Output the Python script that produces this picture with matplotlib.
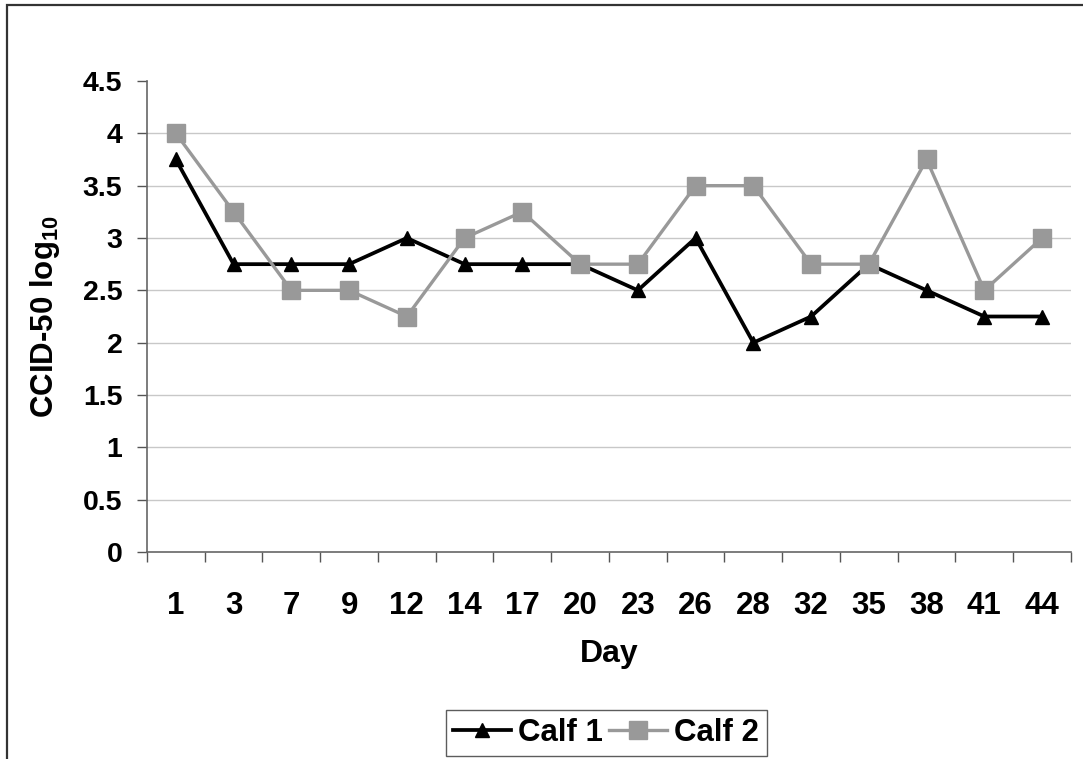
import matplotlib.pyplot as plt
from matplotlib.patches import Rectangle

plt.rcParams['font.family'] = ['Liberation Sans', 'DejaVu Sans']
plt.rcParams['font.weight'] = 'bold'
plt.rcParams['mathtext.fontset'] = 'custom'
plt.rcParams['mathtext.bf'] = 'Liberation Sans:bold'
plt.rcParams['mathtext.rm'] = 'Liberation Sans:bold'

# sampling days and virus titres for each calf
days = ['1', '3', '7', '9', '12', '14', '17', '20', '23', '26', '28', '32', '35', '38', '41', '44']
calf1 = [3.75, 2.75, 2.75, 2.75, 3.0, 2.75, 2.75, 2.75, 2.5, 3.0, 2.0, 2.25, 2.75, 2.5, 2.25, 2.25]
calf2 = [4.0, 3.25, 2.5, 2.5, 2.25, 3.0, 3.25, 2.75, 2.75, 3.5, 3.5, 2.75, 2.75, 3.75, 2.5, 3.0]
yticks = [0, 0.5, 1, 1.5, 2, 2.5, 3, 3.5, 4, 4.5]
ytick_labels = ['0', '0.5', '1', '1.5', '2', '2.5', '3', '3.5', '4', '4.5']

fig = plt.figure(figsize=(10.83, 7.59), dpi=100)
ax = fig.add_axes([0.1357, 0.2727, 0.8532, 0.6206])

# chart frame (only left and top edges fall inside the image)
fig.patches.append(Rectangle((6.5 / 1083, -0.2), 1.2, 1.2 - 4.5 / 759,
                             transform=fig.transFigure, fill=False,
                             edgecolor='#333333', linewidth=1.6, zorder=0))

x = list(range(len(days)))
ax.plot(x, calf1, color='black', linewidth=2.7, marker='^', markersize=10,
        label='Calf 1', zorder=3)
ax.plot(x, calf2, color='#999999', linewidth=2.4, marker='s', markersize=12.5,
        label='Calf 2', zorder=4)

ax.set_xlim(-0.5, len(days) - 0.5)
ax.set_ylim(0, 4.5)

for v in yticks[1:-1]:
    ax.axhline(v, color='#c8c8c8', linewidth=1, zorder=1)

ax.set_yticks(yticks)
ax.set_yticklabels(ytick_labels)
ax.set_xticks(x)
ax.set_xticklabels(days)
ax.set_xticks([i - 0.5 for i in range(len(days) + 1)], minor=True)
ax.tick_params(axis='x', which='major', length=0, pad=28, labelsize=22.5)
ax.tick_params(axis='x', which='minor', length=7.2, width=1, color='#555555')
ax.tick_params(axis='y', length=7.2, width=1, color='#555555', pad=10.5, labelsize=20.5)

for side in ['top', 'right']:
    ax.spines[side].set_visible(False)
for side in ['left', 'bottom']:
    ax.spines[side].set_color('#666666')
    ax.spines[side].set_linewidth(1.2)

ax.set_xlabel('Day', fontsize=23, fontweight='bold', labelpad=13)
ax.set_ylabel(r'CCID-50 log$_\mathbf{10}$', fontsize=22.5, fontweight='bold', labelpad=15)

leg = fig.legend(loc='upper center', bbox_to_anchor=(606 / 1083, 1 - 710 / 759),
                 ncol=2, frameon=True, fancybox=False, fontsize=22.5,
                 handlelength=1.85, handletextpad=0.22, columnspacing=0.2,
                 borderpad=0.25, borderaxespad=0)
leg.get_frame().set_edgecolor('#333333')
leg.get_frame().set_linewidth(1)

fig.savefig('out.png', dpi=100)
